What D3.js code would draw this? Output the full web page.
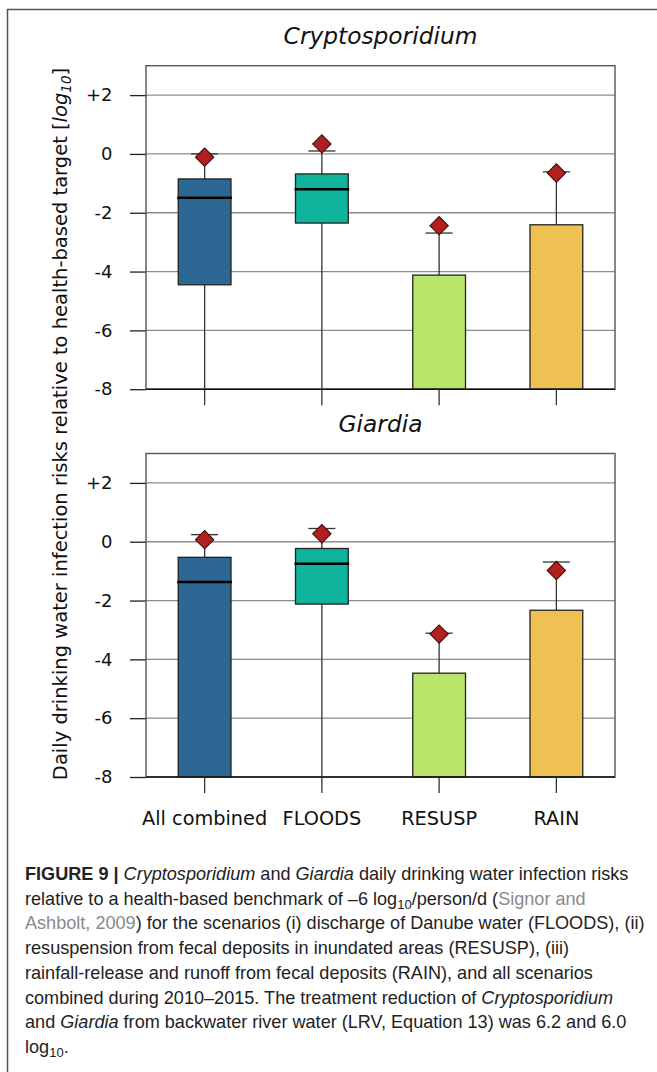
<!DOCTYPE html>
<html>
<head>
<meta charset="utf-8">
<script src="https://cdn.jsdelivr.net/npm/d3@7"></script>
<style>
  html, body { margin: 0; padding: 0; background: #fff; }
  svg { display: block; }
</style>
</head>
<body>
<script>
// ---------------- DATA ----------------
const categories = ["All combined", "FLOODS", "RESUSP", "RAIN"];
const boxColors = ["#2d6895", "#10b39b", "#b9e56a", "#eec152"];
const yTickValues = [-8, -6, -4, -2, 0, 2];
const yTickLabels = ["-8", "-6", "-4", "-2", "0", "+2"];

// Cryptosporidium (log10 relative to health-based target); -8 = at/below axis floor
const cryptoLower  = [-8, -8, -8, -8];
const cryptoQ1     = [-4.45, -2.35, -8, -8];
const cryptoMedian = [-1.49, -1.20, null, null];
const cryptoQ3     = [-0.85, -0.68, -4.12, -2.41];
const cryptoUpper  = [0.00, 0.10, -2.69, -0.61];
const cryptoMean   = [-0.11, 0.34, -2.44, -0.65];

// Giardia
const giardiaLower  = [-8, -8, -8, -8];
const giardiaQ1     = [-8, -2.12, -8, -8];
const giardiaMedian = [-1.37, -0.75, null, null];
const giardiaQ3     = [-0.53, -0.23, -4.47, -2.33];
const giardiaUpper  = [0.24, 0.45, -3.11, -0.69];
const giardiaMean   = [0.07, 0.27, -3.14, -0.98];

const panelTitles = ["Cryptosporidium", "Giardia"];

// ---------------- LAYOUT ----------------
const W = 657, H = 1072;
const svg = d3.select("body").append("svg").attr("width", W).attr("height", H);

// outer frame
svg.append("path")
  .attr("d", `M7.5,${H + 5} L7.5,9.5 L${W + 5},9.5`)
  .attr("fill", "none").attr("stroke", "#555").attr("stroke-width", 1.5);

const plotLeft = 146, plotRight = 615, plotH = 323.5;
const panelTops = [65.7, 453.5];
const x = d3.scaleBand().domain(categories).range([plotLeft, plotRight]).padding(0);
const boxW = x.bandwidth() * 0.45;
const capW = 27;
const FONT = "'DejaVu Sans', sans-serif";

const panels = [
  { lower: cryptoLower, q1: cryptoQ1, med: cryptoMedian, q3: cryptoQ3, upper: cryptoUpper, mean: cryptoMean },
  { lower: giardiaLower, q1: giardiaQ1, med: giardiaMedian, q3: giardiaQ3, upper: giardiaUpper, mean: giardiaMean }
];

panels.forEach((p, pi) => {
  const top = panelTops[pi], bottom = top + plotH;
  const y = d3.scaleLinear().domain([-8, 3]).range([bottom, top]);
  const g = svg.append("g");
  const cl = v => Math.max(-8, Math.min(3, v));

  // title
  g.append("text")
    .attr("x", (plotLeft + plotRight) / 2).attr("y", top - 21.5)
    .attr("text-anchor", "middle")
    .attr("font-family", FONT).attr("font-style", "italic").attr("font-size", 23.3)
    .attr("fill", "#111")
    .text(panelTitles[pi]);

  // gridlines
  g.append("g").selectAll("line").data(yTickValues.filter(v => v > -8)).join("line")
    .attr("x1", plotLeft).attr("x2", plotRight)
    .attr("y1", d => y(d)).attr("y2", d => y(d))
    .attr("stroke", "#8c8c8c").attr("stroke-width", 1.3);

  // y axis
  const yAxis = d3.axisLeft(y).tickValues(yTickValues)
    .tickFormat((d, i) => yTickLabels[i]).tickSize(16).tickPadding(17.5);
  const ya = g.append("g").attr("transform", `translate(${plotLeft},0)`).call(yAxis);
  ya.select(".domain").remove();
  ya.selectAll(".tick line").attr("stroke", "#222").attr("stroke-width", 1.3);
  ya.selectAll(".tick text").attr("font-family", FONT).attr("font-size", 18).attr("fill", "#111");

  const idx = d3.range(categories.length);
  const cx = i => x(categories[i]) + x.bandwidth() / 2;

  // lower whiskers
  g.append("g").selectAll("line").data(idx.filter(i => p.q1[i] > -8)).join("line")
    .attr("x1", cx).attr("x2", cx)
    .attr("y1", i => y(p.q1[i])).attr("y2", i => y(cl(p.lower[i])))
    .attr("stroke", "#333").attr("stroke-width", 1.3);
  // upper whiskers
  g.append("g").selectAll("line").data(idx).join("line")
    .attr("x1", cx).attr("x2", cx)
    .attr("y1", i => y(p.q3[i])).attr("y2", i => y(p.upper[i]))
    .attr("stroke", "#333").attr("stroke-width", 1.3);
  // caps
  g.append("g").selectAll("line").data(idx).join("line")
    .attr("x1", i => cx(i) - capW / 2).attr("x2", i => cx(i) + capW / 2)
    .attr("y1", i => y(p.upper[i])).attr("y2", i => y(p.upper[i]))
    .attr("stroke", "#333").attr("stroke-width", 1.3);

  // boxes
  g.append("g").selectAll("rect").data(idx).join("rect")
    .attr("x", i => cx(i) - boxW / 2).attr("width", boxW)
    .attr("y", i => y(p.q3[i])).attr("height", i => y(cl(p.q1[i])) - y(p.q3[i]))
    .attr("fill", i => boxColors[i]).attr("stroke", "#222").attr("stroke-width", 1.3);

  // medians
  g.append("g").selectAll("line").data(idx.filter(i => p.med[i] !== null)).join("line")
    .attr("x1", i => cx(i) - boxW / 2 - 1).attr("x2", i => cx(i) + boxW / 2 + 1)
    .attr("y1", i => y(p.med[i])).attr("y2", i => y(p.med[i]))
    .attr("stroke", "#000").attr("stroke-width", 2.6);

  // plot frame
  g.append("rect").attr("x", plotLeft).attr("y", top).attr("width", plotRight - plotLeft).attr("height", plotH)
    .attr("fill", "none").attr("stroke", "#555").attr("stroke-width", 1.4);
  g.append("line").attr("x1", plotLeft).attr("x2", plotRight).attr("y1", bottom).attr("y2", bottom)
    .attr("stroke", "#111").attr("stroke-width", 1.5);

  // category ticks (x axis)
  const xAxis = d3.axisBottom(x).tickSize(16).tickPadding(4);
  const xa = g.append("g").attr("transform", `translate(0,${bottom})`).call(xAxis);
  xa.select(".domain").remove();
  xa.selectAll(".tick line").attr("stroke", "#333").attr("stroke-width", 1.3);
  if (pi === 1) {
    xa.selectAll(".tick text").attr("font-family", FONT).attr("font-size", 19.3).attr("fill", "#111")
      .attr("dy", null).attr("y", 48);
  } else {
    xa.selectAll(".tick text").remove();
  }

  // means (diamonds)
  const diamond = d3.symbol().type(d3.symbolSquare).size(170);
  g.append("g").selectAll("path").data(idx).join("path")
    .attr("d", diamond)
    .attr("transform", i => `translate(${cx(i)},${y(p.mean[i])}) rotate(45)`)
    .attr("fill", "#b21f1f").attr("stroke", "#3a0808").attr("stroke-width", 1);
});

// y-axis label (shared)
const yl = svg.append("text")
  .attr("transform", "translate(67,424) rotate(-90)")
  .attr("text-anchor", "middle")
  .attr("font-family", FONT).attr("font-size", 19.5).attr("fill", "#111");
yl.append("tspan").text("Daily drinking water infection risks relative to health-based target [");
yl.append("tspan").attr("font-style", "italic").text("log");
yl.append("tspan").attr("font-style", "italic").attr("font-size", 13.5).attr("dy", 4).text("10");
yl.append("tspan").attr("dy", -4).text("]");

// ---------------- CAPTION ----------------
const capFont = "'Liberation Sans', Arial, sans-serif";
const capX = 25, capY0 = 880, capLH = 24.7, capSize = 18.1;
const captionLines = [
  [["FIGURE 9 | ", "b"], ["Cryptosporidium", "i"], [" and ", ""], ["Giardia", "i"], [" daily drinking water infection risks", ""]],
  [["relative to a health-based benchmark of \u20136 log", ""], ["10", "sub"], ["/person/d (", ""], ["Signor and", "g"]],
  [["Ashbolt, 2009", "g"], [") for the scenarios (i) discharge of Danube water (FLOODS), (ii)", ""]],
  [["resuspension from fecal deposits in inundated areas (RESUSP), (iii)", ""]],
  [["rainfall-release and runoff from fecal deposits (RAIN), and all scenarios", ""]],
  [["combined during 2010\u20132015. The treatment reduction of ", ""], ["Cryptosporidium", "i"]],
  [["and ", ""], ["Giardia", "i"], [" from backwater river water (LRV, Equation 13) was 6.2 and 6.0", ""]],
  [["log", ""], ["10", "sub"], [".", ""]]
];
captionLines.forEach((segs, li) => {
  const t = svg.append("text").attr("x", capX).attr("y", capY0 + li * capLH)
    .attr("font-family", capFont).attr("font-size", capSize).attr("fill", "#222");
  let prevSub = false;
  segs.forEach(([s, st]) => {
    const ts = t.append("tspan").text(s);
    if (st === "b") ts.attr("font-weight", "bold");
    if (st === "i") ts.attr("font-style", "italic");
    if (st === "g") ts.attr("fill", "#8a8a8a");
    if (st === "sub") { ts.attr("font-size", capSize * 0.72).attr("dy", 4); prevSub = true; }
    else if (prevSub) { ts.attr("dy", -4); prevSub = false; }
  });
});
</script>
</body>
</html>
